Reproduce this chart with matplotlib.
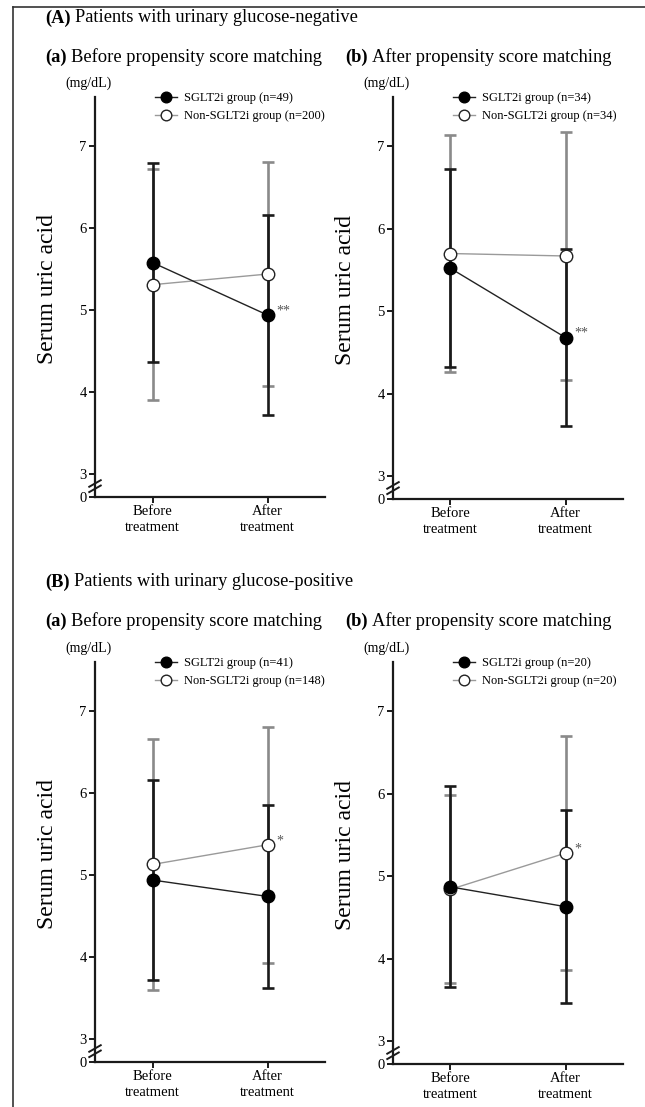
import matplotlib
matplotlib.use("Agg")
import matplotlib.pyplot as plt
from matplotlib.lines import Line2D

plt.rcParams['font.family'] = ['Liberation Serif', 'DejaVu Serif']

# ---------------- data ----------------
groups = ["Before\ntreatment", "After\ntreatment"]

Aa_sglt_mean = [5.58, 4.94]; Aa_sglt_sd = [1.21, 1.22]
Aa_non_mean = [5.31, 5.44];  Aa_non_sd = [1.41, 1.37]
Aa_n = (49, 200)

Ab_sglt_mean = [5.52, 4.68]; Ab_sglt_sd = [1.20, 1.07]
Ab_non_mean = [5.70, 5.67];  Ab_non_sd = [1.44, 1.50]
Ab_n = (34, 34)

Ba_sglt_mean = [4.94, 4.74]; Ba_sglt_sd = [1.22, 1.12]
Ba_non_mean = [5.13, 5.37];  Ba_non_sd = [1.53, 1.44]
Ba_n = (41, 148)

Bb_sglt_mean = [4.87, 4.63]; Bb_sglt_sd = [1.22, 1.17]
Bb_non_mean = [4.84, 5.28];  Bb_non_sd = [1.14, 1.42]
Bb_n = (20, 20)

ytick_vals = [3, 4, 5, 6, 7]
ytick_labels = ["3", "4", "5", "6", "7"]

# ---------------- layout helpers ----------------
W, H = 645, 1107
fig = plt.figure(figsize=(W / 100, H / 100), dpi=100)

def fx(x):
    return x / W

def fy(y):
    return 1 - y / H

GREY = '#8a8a8a'
Y_BOTTOM = 2.72   # axis origin drawn as "0" after the break
Y_TOP = 7.6

def panel(left, top, right, bottom, sglt_m, sglt_s, non_m, non_s, n, stars, star_on_sglt):
    ax = fig.add_axes([fx(left), fy(bottom), fx(right - left), (bottom - top) / H])
    x = list(range(len(groups)))
    # error bars: grey (non) first, black (sglt) on top
    ax.errorbar(x, non_m, yerr=non_s, fmt='none', ecolor=GREY, elinewidth=1.9,
                capsize=4, capthick=1.9, zorder=2)
    ax.errorbar(x, sglt_m, yerr=sglt_s, fmt='none', ecolor='#1a1a1a', elinewidth=1.9,
                capsize=4, capthick=1.9, zorder=3)
    l1, = ax.plot(x, sglt_m, '-', color='#222222', lw=1.0, marker='o', ms=9,
                  mfc='black', mec='black', mew=1, zorder=5,
                  label=f'SGLT2i group (n={n[0]})')
    l2, = ax.plot(x, non_m, '-', color='#9a9a9a', lw=1.0, marker='o', ms=9,
                  mfc='white', mec='#222222', mew=1, zorder=4,
                  label=f'Non-SGLT2i group (n={n[1]})')
    # star annotations
    sy = sglt_m[1] if star_on_sglt else non_m[1]
    ax.annotate(stars, xy=(1, sy), xytext=(6, 3), textcoords='offset points',
                fontsize=10, color='#555555', ha='left', va='center', annotation_clip=False)

    ax.set_xlim(-0.5, 1.5)
    ax.set_ylim(Y_BOTTOM, Y_TOP)
    ax.set_xticks(x)
    ax.set_xticklabels(groups, fontsize=10.5, linespacing=1.25)
    ax.set_yticks([Y_BOTTOM] + ytick_vals)
    ax.set_yticklabels(["0"] + ytick_labels, fontsize=10.5)
    for s in ['top', 'right']:
        ax.spines[s].set_visible(False)
    for s in ['left', 'bottom']:
        ax.spines[s].set_linewidth(1.6)
        ax.spines[s].set_color('#1a1a1a')
    ax.tick_params(axis='both', direction='out', length=4, width=1.4, color='#1a1a1a',
                   pad=2)
    ax.set_ylabel('Serum uric acid', fontsize=17)
    ax.yaxis.set_label_coords(-0.16, 0.52)
    ax.patch.set_alpha(0)
    # axis break marks
    tr = ax.get_yaxis_transform()
    for dy in (0.0, 0.065):
        ax.plot([-0.025, 0.025], [2.78 + dy, 2.86 + dy], color='#1a1a1a', lw=1.4,
                transform=tr, clip_on=False, zorder=6)
    # legend
    ax.legend(handles=[l1, l2], loc='upper left',
              bbox_to_anchor=(fx(left + 60), fy(top - 5)),
              bbox_transform=fig.transFigure, frameon=False, fontsize=9.0,
              handlelength=1.75, handletextpad=0.6, borderpad=0, borderaxespad=0,
              labelspacing=0.5, markerscale=0.85)
    return ax

axAa = panel(95, 97, 325, 497, Aa_sglt_mean, Aa_sglt_sd, Aa_non_mean, Aa_non_sd, Aa_n, '**', True)
axAb = panel(393, 97, 623, 499, Ab_sglt_mean, Ab_sglt_sd, Ab_non_mean, Ab_non_sd, Ab_n, '**', True)
axBa = panel(95, 662, 325, 1062, Ba_sglt_mean, Ba_sglt_sd, Ba_non_mean, Ba_non_sd, Ba_n, '*', False)
axBb = panel(393, 662, 623, 1064, Bb_sglt_mean, Bb_sglt_sd, Bb_non_mean, Bb_non_sd, Bb_n, '*', False)

# ---------------- headings ----------------
def heading(x, y, bold, rest, size):
    t = fig.text(fx(x), fy(y), bold, fontsize=size, fontweight='bold', ha='left', va='center')
    axAa.annotate(rest, xy=(1, 0.5), xycoords=t, xytext=(3.5, 0), textcoords='offset points',
                  fontsize=size, ha='left', va='center', annotation_clip=False)

heading(45, 18, '(A)', 'Patients with urinary glucose-negative', 13.2)
heading(45, 57, '(a)', 'Before propensity score matching', 13.3)
heading(345, 57, '(b)', 'After propensity score matching', 13.3)
heading(45, 582, '(B)', 'Patients with urinary glucose-positive', 13.2)
heading(45, 621, '(a)', 'Before propensity score matching', 13.3)
heading(345, 621, '(b)', 'After propensity score matching', 13.3)

for (x, y) in [(88, 83), (387, 83), (88, 648), (387, 648)]:
    fig.text(fx(x), fy(y), '(mg/dL)', fontsize=10, ha='center', va='center')

# frame border (left and top edges)
fig.add_artist(Line2D([fx(13), fx(13)], [fy(7), 0], color='#333333', lw=1.2,
                      transform=fig.transFigure))
fig.add_artist(Line2D([fx(13), 1], [fy(7), fy(7)], color='#333333', lw=1.2,
                      transform=fig.transFigure))

fig.savefig('out.png', dpi=100)
